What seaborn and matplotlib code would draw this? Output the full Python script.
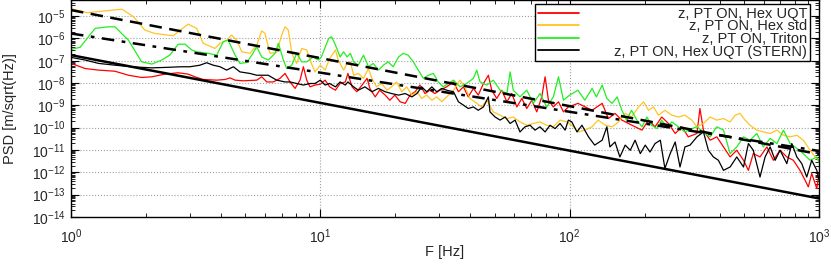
import numpy as np
import matplotlib
matplotlib.use("Agg")
import matplotlib.pyplot as plt
import seaborn as sns
from matplotlib.ticker import LogLocator, NullFormatter

# Values. Frequencies in Hz, PSD given as log10 exponents
# (as read on the logarithmic y axis).
labels = ["z, PT ON, Hex UQT", "z, PT ON, Hex std", "z, PT ON, Triton",
          "z, PT ON, Hex UQT (STERN)"]
colors = ["#ff0000", "#ffc424", "#22ee22", "#000000"]

uqt_freq = [1.0, 1.14, 1.29, 1.50, 1.70, 1.92, 2.11, 2.38, 2.69, 2.95, 3.14, 3.39, 3.84,
            4.15, 4.34, 4.55, 4.91, 5.56, 5.82, 6.10, 6.48, 6.89, 7.22, 7.56, 7.92, 8.29,
            8.55, 8.82, 9.09, 9.52, 10.0, 10.45, 10.9, 11.5, 12.0, 12.6, 12.9, 13.4, 14.0,
            14.7, 15.4, 15.8, 16.6, 17.3, 18.2, 19.0, 19.9, 20.9, 21.9, 22.9, 24.0, 25.1,
            26.3, 27.5, 28.8, 30.2, 32.1, 34.2, 35.8, 37.5, 39.2, 41.1, 43.0, 45.1, 47.2,
            48.7, 51.0, 53.4, 56.0, 58.6, 61.4, 64.3, 67.3, 70.5, 73.8, 77.3, 79.7, 82.2,
            86.0, 90.2, 94.4, 98.8, 108, 123, 135, 143, 152, 162, 172, 183, 195, 207, 220,
            234, 249, 265, 282, 299, 324, 333, 344, 366, 389, 414, 440, 468, 498, 521, 545,
            580, 618, 656, 698, 743, 789, 839, 879, 906, 935, 980, 1000]
uqt_exp = [-7.12, -7.35, -7.42, -7.47, -7.65, -7.75, -7.72, -7.60, -7.54, -7.60, -7.72,
           -7.84, -7.87, -7.84, -7.77, -7.87, -7.90, -7.87, -7.72, -7.95, -7.95, -7.79,
           -7.57, -7.95, -8.24, -7.87, -7.27, -7.87, -8.17, -8.09, -8.05, -7.87, -8.17,
           -8.32, -8.02, -7.95, -7.57, -8.17, -8.39, -8.09, -7.79, -8.24, -8.62, -8.32,
           -8.54, -8.77, -8.54, -8.84, -8.91, -8.54, -8.39, -8.09, -8.47, -8.32, -8.47,
           -8.32, -8.17, -7.95, -8.39, -8.17, -8.62, -8.24, -8.54, -8.02, -7.65, -8.32,
           -8.69, -8.32, -8.84, -8.47, -9.07, -8.69, -9.14, -8.77, -9.29, -8.62, -7.72,
           -8.77, -9.07, -8.84, -9.29, -9.07, -8.91, -9.22, -8.91, -9.59, -9.36, -9.66,
           -9.81, -9.96, -10.11, -9.66, -9.96, -9.52, -9.81, -10.26, -9.96, -10.41,
           -10.26, -9.14, -10.11, -10.56, -10.41, -10.86, -11.31, -11.01, -11.46, -11.91,
           -11.16, -11.31, -10.86, -11.46, -11.01, -11.31, -11.46, -11.91, -12.35, -12.65,
           -12.05, -12.73, -12.05]

std_freq = [1.0, 1.16, 1.6, 1.78, 1.98, 2.17, 2.57, 2.95, 3.19, 3.39, 3.78, 3.96, 4.21,
            4.41, 4.62, 4.84, 5.22, 5.56, 5.82, 6.0, 6.28, 6.68, 7.0, 7.22, 7.44, 7.68,
            8.04, 8.42, 8.82, 9.09, 9.52, 10.0, 10.45, 10.9, 11.5, 11.8, 12.4, 12.8, 13.2,
            13.6, 14.2, 14.9, 15.6, 16.1, 16.8, 17.6, 18.5, 19.3, 20.2, 21.2, 22.2, 23.3,
            24.4, 25.5, 26.7, 28.0, 29.3, 30.7, 32.1, 34.2, 36.3, 38.0, 39.8, 42.4, 44.4,
            46.5, 49.4, 52.6, 56.0, 59.4, 63.2, 67.3, 71.5, 76.0, 80.9, 86.0, 91.5, 97.3,
            102, 108, 115, 123, 130, 139, 148, 157, 167, 177, 189, 198, 207, 217, 227, 241,
            257, 273, 290, 309, 324, 344, 366, 389, 414, 440, 461, 482, 505, 529, 563, 598,
            637, 678, 720, 766, 815, 865, 921, 964, 995]
std_exp = [-4.66, -4.85, -4.69, -5.03, -5.63, -5.78, -5.88, -5.36, -5.55, -6.22, -6.45,
           -6.22, -6.08, -5.85, -6.08, -6.60, -6.67, -6.30, -5.66, -5.78, -6.67, -6.63,
           -5.85, -5.48, -5.63, -6.67, -7.12, -6.45, -6.52, -6.97, -7.50, -7.20, -7.42,
           -6.90, -6.52, -6.97, -7.42, -7.12, -7.05, -7.65, -7.57, -7.79, -7.35, -7.79,
           -8.17, -8.02, -8.32, -8.17, -7.95, -8.39, -8.17, -8.54, -8.39, -8.69, -8.54,
           -8.77, -8.62, -8.84, -8.62, -8.32, -7.87, -8.17, -8.69, -8.91, -9.07, -8.77,
           -9.29, -9.44, -9.59, -9.52, -9.74, -9.89, -9.81, -9.74, -9.89, -9.96, -9.66,
           -9.74, -9.89, -10.19, -10.11, -9.96, -9.66, -9.89, -9.96, -9.74, -9.36, -9.52,
           -9.07, -8.84, -9.22, -9.07, -9.44, -9.22, -9.44, -9.52, -9.44, -9.66, -9.96,
           -9.81, -9.52, -9.66, -9.59, -9.74, -9.44, -9.36, -9.66, -9.89, -10.11, -10.19,
           -10.26, -10.11, -10.34, -10.41, -10.34, -10.56, -11.01, -11.31, -11.46]

triton_freq = [1.0, 1.087, 1.25, 1.41, 1.50, 1.70, 1.92, 2.11, 2.31, 2.49, 2.69, 2.87,
               3.05, 3.19, 3.55, 3.84, 4.08, 4.27, 4.55, 4.76, 5.07, 5.31, 5.56, 5.82,
               6.18, 6.58, 6.79, 7.11, 7.33, 7.68, 8.04, 8.42, 8.82, 9.37, 9.82, 10.1,
               10.8, 11.1, 11.5, 12.0, 12.4, 12.8, 13.2, 13.6, 14.2, 14.9, 15.6, 16.3,
               17.1, 17.9, 18.7, 19.6, 20.6, 21.5, 22.5, 23.6, 24.7, 25.9, 27.1, 28.4,
               29.7, 31.1, 34.2, 36.3, 38.6, 41.1, 42.4, 43.7, 46.5, 49.4, 52.6, 56.0,
               57.7, 59.4, 63.2, 67.3, 71.5, 76.0, 80.9, 86.0, 90.2, 94.4, 100, 108, 115,
               123, 128, 135, 141, 148, 155, 162, 169, 177, 186, 195, 204, 213, 224, 234,
               245, 257, 273, 290, 309, 324, 344, 366, 389, 414, 440, 468, 498, 529, 563,
               598, 637, 678, 720, 766, 815, 865, 921, 980, 1000]
triton_exp = [-6.49, -6.40, -5.55, -5.48, -5.48, -6.08, -7.05, -7.15, -6.97, -6.75, -6.26,
              -6.26, -6.52, -6.60, -6.67, -6.75, -6.15, -6.08, -6.75, -7.12, -7.08, -6.75,
              -6.38, -6.83, -6.97, -6.67, -6.22, -6.97, -7.35, -7.20, -6.67, -7.05, -7.05,
              -6.83, -6.97, -6.83, -6.00, -5.93, -6.30, -6.83, -6.60, -6.83, -6.67, -7.05,
              -7.20, -6.75, -7.27, -7.12, -7.42, -7.20, -7.05, -7.27, -6.83, -6.67, -6.75,
              -7.05, -7.42, -7.79, -7.65, -7.57, -7.95, -8.17, -7.87, -8.17, -8.02, -7.79,
              -7.42, -7.95, -8.09, -7.87, -8.32, -8.47, -7.50, -8.32, -8.62, -8.32, -8.91,
              -8.47, -9.07, -8.62, -7.72, -8.77, -8.54, -8.32, -8.77, -8.24, -8.62, -8.09,
              -8.69, -8.91, -8.62, -9.22, -9.66, -9.22, -9.66, -9.96, -9.52, -9.89, -10.04,
              -9.66, -9.96, -9.74, -9.96, -10.19, -10.04, -9.96, -10.19, -10.41, -9.96,
              -10.11, -11.16, -10.86, -10.41, -10.56, -10.26, -10.86, -10.48, -10.71,
              -10.11, -10.71, -10.93, -11.16, -11.46, -11.31, -11.55]

stern_freq = [1.0, 1.14, 1.29, 1.50, 1.75, 2.11, 2.38, 2.78, 3.0, 3.29, 3.50, 3.72, 3.96,
              4.21, 4.48, 4.76, 5.22, 5.56, 6.18, 6.68, 7.22, 7.56, 8.04, 8.55, 9.09, 9.52,
              10.0, 10.45, 10.9, 11.5, 12.0, 12.6, 12.9, 13.6, 14.2, 15.1, 16.1, 17.1,
              18.2, 19.3, 20.6, 21.9, 23.3, 24.4, 25.5, 26.7, 28.0, 29.3, 30.7, 32.1,
              34.2, 35.8, 37.5, 39.2, 41.1, 43.0, 45.1, 47.2, 47.9, 50.2, 52.6, 55.1,
              57.7, 60.4, 63.2, 66.2, 69.4, 72.6, 76.0, 79.7, 83.4, 87.4, 91.5, 95.9,
              98.8, 102, 107, 112, 119, 126, 135, 141, 145, 152, 159, 167, 175, 183, 192,
              201, 210, 220, 231, 241, 253, 265, 277, 290, 304, 324, 344, 360, 377, 395,
              414, 440, 468, 498, 521, 545, 580, 608, 637, 667, 698, 743, 778, 815, 853,
              893, 935, 980, 1000]
stern_exp = [-6.85, -6.97, -7.12, -7.20, -7.27, -7.32, -7.30, -7.27, -7.27, -7.20, -7.09,
             -7.20, -7.27, -7.42, -7.27, -7.50, -7.57, -7.65, -7.65, -7.87, -7.95, -7.95,
             -8.02, -8.09, -8.02, -8.02, -7.87, -8.09, -8.02, -8.17, -7.95, -8.09, -7.95,
             -8.17, -8.32, -8.17, -8.39, -8.24, -8.39, -8.47, -8.54, -8.47, -8.62, -8.47,
             -8.17, -8.39, -8.17, -8.39, -8.24, -8.32, -8.39, -8.84, -8.99, -9.14, -9.07,
             -9.22, -9.07, -8.62, -9.29, -9.52, -9.66, -9.52, -9.81, -9.66, -10.19, -9.96,
             -9.89, -10.11, -9.96, -10.19, -9.89, -10.04, -9.81, -10.11, -9.66, -9.74,
             -10.19, -9.89, -10.41, -10.78, -10.56, -9.96, -10.86, -10.64, -11.31, -10.78,
             -11.01, -10.56, -11.16, -10.78, -11.09, -10.71, -10.56, -11.83, -11.16,
             -10.64, -11.76, -10.86, -10.78, -10.41, -10.19, -11.01, -11.31, -11.46,
             -11.91, -11.76, -11.31, -11.76, -10.71, -11.01, -12.21, -11.31, -10.86,
             -11.46, -11.01, -11.61, -10.71, -11.31, -11.61, -12.21, -11.46, -11.91, -12.35]

# straight reference lines (end points)
ref_freq = [1.0, 1000.0]
ref_solid = [1.78e-7, 6.8e-14]
ref_dashed = [1.86e-5, 6.5e-12]
ref_dashdot = [1.66e-6, 9.1e-12]

sns.set_style("ticks")
plt.rcParams['font.family'] = ['Liberation Sans', 'DejaVu Sans']
plt.rcParams['mathtext.default'] = 'regular'

fig = plt.figure(figsize=(8.31, 2.64), dpi=100)
ax = fig.add_axes([71 / 831, 47 / 264, 748 / 831, 217 / 264])
ax.set_xscale('log')
ax.set_yscale('log')

series = [(uqt_freq, uqt_exp), (std_freq, std_exp), (triton_freq, triton_exp),
          (stern_freq, stern_exp)]
for (f, e), lab, col in zip(series, labels, colors):
    sns.lineplot(x=f, y=10 ** np.array(e), color=col, lw=0.9, label=lab,
                 sort=False, estimator=None, ax=ax)

sns.lineplot(x=ref_freq, y=ref_solid, color='black', lw=1.8, ax=ax)
sns.lineplot(x=ref_freq, y=ref_dashed, color='black', lw=1.8, ax=ax,
             linestyle=(0, (5, 3)))
sns.lineplot(x=ref_freq, y=ref_dashdot, color='black', lw=1.8, ax=ax,
             linestyle=(0, (5, 3, 1.5, 3)))

ax.set_xlim(1, 1000)
ax.set_ylim(1e-14, 10 ** -4.28)
ax.xaxis.set_major_locator(LogLocator(base=10, numticks=10))
ax.xaxis.set_minor_locator(LogLocator(base=10, subs=np.arange(2, 10), numticks=10))
ax.yaxis.set_major_locator(LogLocator(base=10, numticks=20))
ax.yaxis.set_minor_locator(LogLocator(base=10, subs=np.arange(2, 10), numticks=20))
ax.xaxis.set_minor_formatter(NullFormatter())
ax.yaxis.set_minor_formatter(NullFormatter())
ax.tick_params(which='both', direction='in', top=True, right=True, labelsize=10,
               color='black')
ax.tick_params(which='major', length=6, width=0.8)
ax.tick_params(which='minor', length=3, width=0.6)
ax.tick_params(axis='x', which='major', pad=7.5)
ax.tick_params(axis='y', which='major', pad=4)
ax.grid(True, which='major', ls=':', color='#a0a0a0', lw=0.8)
for s in ax.spines.values():
    s.set_color('black')
    s.set_linewidth(1.0)

ax.set_xlabel('F [Hz]', fontsize=10.5)
ax.set_ylabel('PSD [m/sqrt(Hz)]', fontsize=10.5)
ax.xaxis.set_label_coords(0.5, -(245 - 217) / 217)
ax.yaxis.set_label_coords((17 - 71) / 748, 0.5)

leg = ax.legend(loc='upper right', bbox_to_anchor=((810 - 71) / 748, 1 - 4 / 217),
                borderaxespad=0, fontsize=10.5, frameon=True, fancybox=False,
                edgecolor='black', framealpha=1, handlelength=2.8, labelspacing=-0.1,
                borderpad=0.2, handletextpad=2.4)
leg.get_frame().set_linewidth(1.0)
for h in leg.get_lines():
    h.set_linewidth(1.3)

# right-align the legend labels, as in the original chart
fig.canvas.draw()
renderer = fig.canvas.get_renderer()
widths = [t.get_window_extent(renderer).width for t in leg.get_texts()]
for t, w in zip(leg.get_texts(), widths):
    t.set_position((max(widths) - w, 0))

fig.savefig('out.png', dpi=100)
